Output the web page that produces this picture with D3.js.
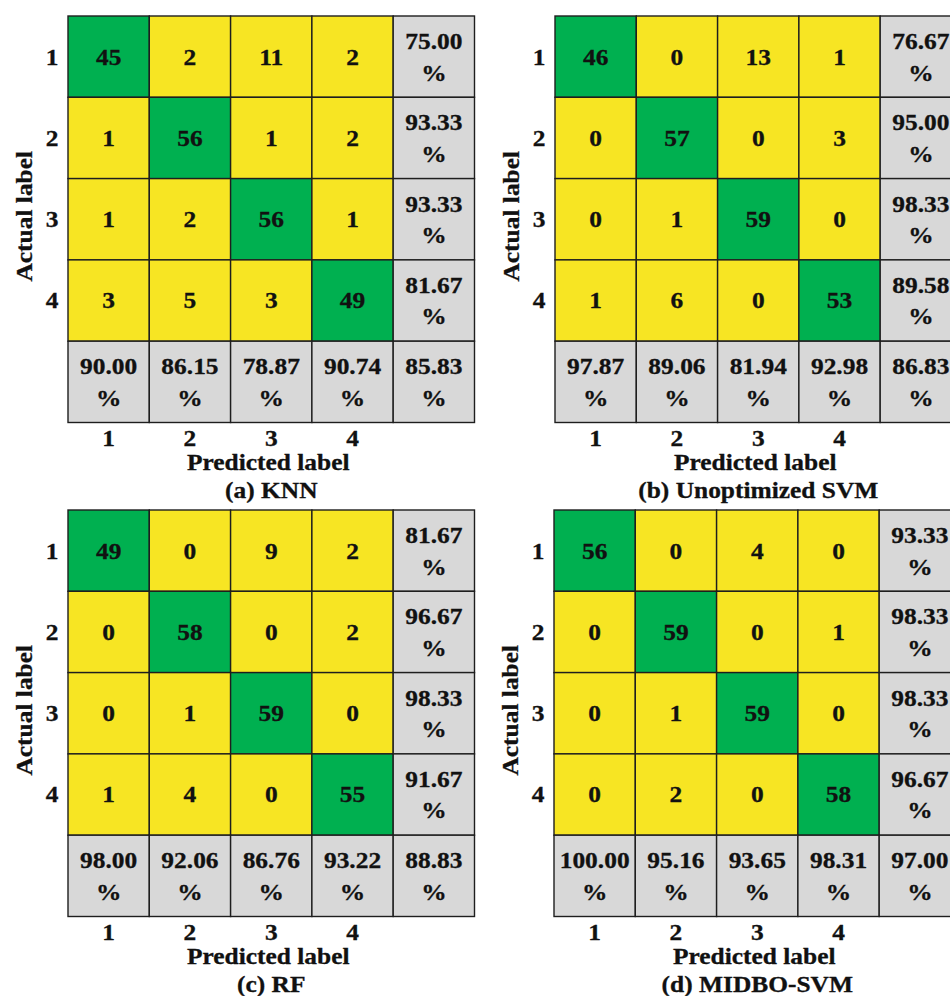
<!DOCTYPE html>
<html>
<head>
<meta charset="utf-8">
<script src="https://cdn.jsdelivr.net/npm/d3@7"></script>
<style>
  html, body { margin: 0; padding: 0; background: #fff; }
  svg { display: block; }
  text { font-family: "Liberation Serif", "Times New Roman", serif; font-weight: bold; fill: #111; stroke: #111; stroke-width: 0.3px; }
</style>
</head>
<body>
<script>
// Class labels shared by every confusion matrix
const classes = ["1", "2", "3", "4"];

// Panel titles
const titles = ["(a) KNN", "(b) Unoptimized SVM", "(c) RF", "(d) MIDBO-SVM"];

// Confusion matrices (rows = actual, columns = predicted)
const knnMatrix = [[45, 2, 11, 2], [1, 56, 1, 2], [1, 2, 56, 1], [3, 5, 3, 49]];
const svmMatrix = [[46, 0, 13, 1], [0, 57, 0, 3], [0, 1, 59, 0], [1, 6, 0, 53]];
const rfMatrix = [[49, 0, 9, 2], [0, 58, 0, 2], [0, 1, 59, 0], [1, 4, 0, 55]];
const midboMatrix = [[56, 0, 4, 0], [0, 59, 0, 1], [0, 1, 59, 0], [0, 2, 0, 58]];

// Per-row recall (%)
const knnRowPct = ["75.00", "93.33", "93.33", "81.67"];
const svmRowPct = ["76.67", "95.00", "98.33", "89.58"];
const rfRowPct = ["81.67", "96.67", "98.33", "91.67"];
const midboRowPct = ["93.33", "98.33", "98.33", "96.67"];

// Per-column precision (%)
const knnColPct = ["90.00", "86.15", "78.87", "90.74"];
const svmColPct = ["97.87", "89.06", "81.94", "92.98"];
const rfColPct = ["98.00", "92.06", "86.76", "93.22"];
const midboColPct = ["100.00", "95.16", "93.65", "98.31"];

// Overall accuracy (%)
const overallPct = ["85.83", "86.83", "88.83", "97.00"];

const matrices = [knnMatrix, svmMatrix, rfMatrix, midboMatrix];
const rowPcts = [knnRowPct, svmRowPct, rfRowPct, midboRowPct];
const colPcts = [knnColPct, svmColPct, rfColPct, midboColPct];

const W = 950, H = 996;
const GREEN = "#00B050", YELLOW = "#F7E523", GRAY = "#D8D8D8";
const FS = 22.5;   // font size
const SX = 1.13;   // horizontal stretch of the lettering

const origins = [[68, 16], [555, 16], [68, 510], [554, 510]];
const side = 406.5;

const svg = d3.select("body").append("svg").attr("width", W).attr("height", H);

const bands = classes.concat(["sum"]);
const x = d3.scaleBand().domain(bands).range([0, side]);
const y = d3.scaleBand().domain(bands).range([0, side]);

// Centered label, widened horizontally; optional rotation
function label(g, px, py, str, rot) {
  const tr = `translate(${px},${py})` + (rot ? ` rotate(${rot})` : "") + ` scale(${SX},1)`;
  g.append("text")
    .attr("transform", tr)
    .attr("dy", "0.35em")
    .attr("text-anchor", "middle")
    .attr("font-size", FS)
    .text(str);
}

matrices.forEach((m, p) => {
  const g = svg.append("g").attr("transform", `translate(${origins[p][0]},${origins[p][1]})`);

  // Build cell records
  const cells = [];
  m.forEach((row, i) => row.forEach((v, j) => {
    cells.push({ r: classes[i], c: classes[j], kind: i === j ? "diag" : "off", lines: [String(v)] });
  }));
  rowPcts[p].forEach((v, i) => cells.push({ r: classes[i], c: "sum", kind: "pct", lines: [v, "%"] }));
  colPcts[p].forEach((v, j) => cells.push({ r: "sum", c: classes[j], kind: "pct", lines: [v, "%"] }));
  cells.push({ r: "sum", c: "sum", kind: "pct", lines: [overallPct[p], "%"] });

  const color = k => k === "diag" ? GREEN : k === "off" ? YELLOW : GRAY;

  g.selectAll("rect.cell").data(cells).join("rect")
    .attr("class", "cell")
    .attr("x", d => x(d.c)).attr("y", d => y(d.r))
    .attr("width", x.bandwidth()).attr("height", y.bandwidth())
    .attr("fill", d => color(d.kind))
    .attr("stroke", "#1e1e1e").attr("stroke-width", 1.4);

  cells.forEach(d => {
    const cx = x(d.c) + x.bandwidth() / 2;
    const cy = y(d.r) + y.bandwidth() / 2;
    if (d.lines.length === 1) {
      label(g, cx, cy, d.lines[0]);
    } else {
      label(g, cx, cy - 15.5, d.lines[0]);
      label(g, cx, cy + 16, d.lines[1]);
    }
  });

  // Row (actual) tick labels
  classes.forEach(c => label(g, -16, y(c) + y.bandwidth() / 2, c));

  // Column (predicted) tick labels
  classes.forEach(c => label(g, x(c) + x.bandwidth() / 2, side + 16, c));

  label(g, side / 2 - 3, side + 40, "Predicted label");
  label(g, side / 2, side + 68, titles[p]);
  label(g, -44, side / 2 - 3, "Actual label", -90);
});
</script>
</body>
</html>
